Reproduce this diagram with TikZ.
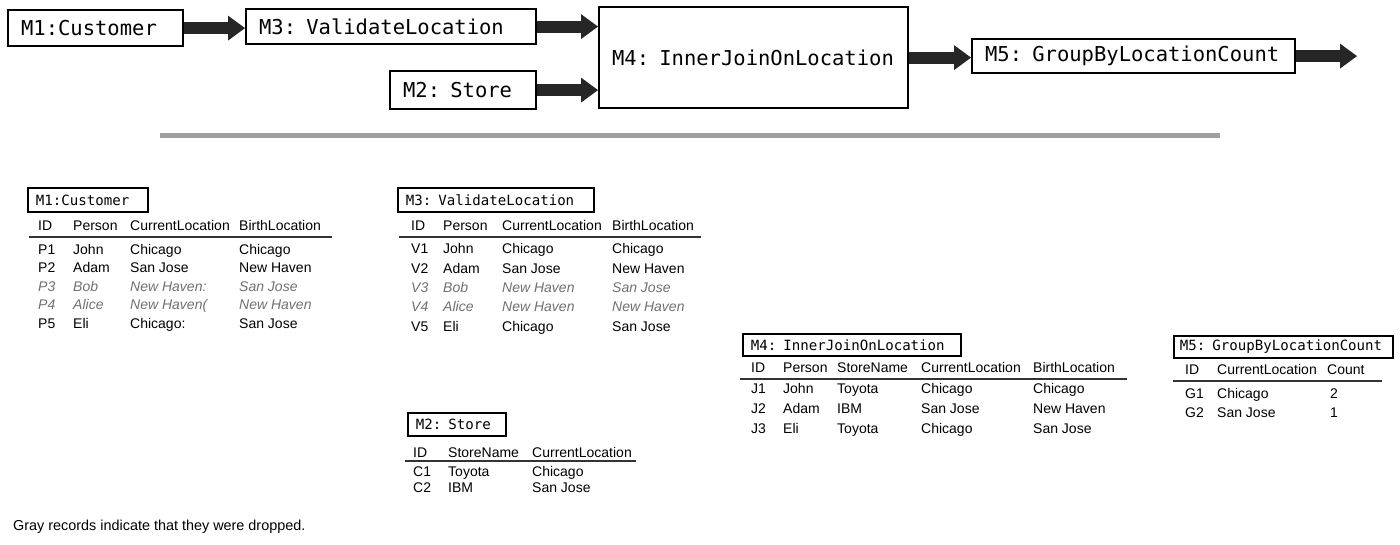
\documentclass[tikz,border=0pt]{standalone}
\usepackage{fontspec}
\setmainfont{Liberation Sans}
\newfontfamily\modfont{DejaVu Sans Mono}
\usetikzlibrary{arrows.meta}
\definecolor{bargray}{RGB}{160,160,160}
\definecolor{dropgray}{RGB}{112,112,112}
\begin{document}
\begin{tikzpicture}[x=1pt, y=-1pt,
  modbox/.style={draw, line width=2.2pt, anchor=north west, align=left, inner xsep=13pt, inner ysep=0pt, font=\modfont\fontsize{20.5}{24}\selectfont},
  tblbox/.style={draw, line width=1.8pt, anchor=north west, align=left, inner xsep=8pt, inner ysep=0pt, font=\modfont\fontsize{14.1}{17}\selectfont},
  flow/.style={line width=12pt, draw=black!85, -{Triangle[length=17pt,width=25pt,line width=0pt]}},
  cell/.style={anchor=base west, inner sep=0pt, font=\fontsize{14}{17}\selectfont},
  drop/.style={cell, text=dropgray, font=\fontsize{14}{17}\selectfont\itshape},
  rule/.style={line width=1.4pt, black!80}]
\useasboundingbox (0,0) rectangle (1400,544);
\node[modbox, text width=149pt, minimum height=36pt] (m1) at (7,9) {M1:Customer};
\node[modbox, text width=264pt, minimum height=35pt] (m3) at (245,8) {M3: ValidateLocation};
\node[modbox, text width=120pt, minimum height=38pt] (m2) at (389,70) {M2: Store};
\node[modbox, text width=283pt, minimum height=101pt] (m4) at (598,6) {M4: InnerJoinOnLocation};
\node[modbox, text width=297pt, minimum height=34pt] (m5) at (971,38) {M5: GroupByLocationCount};
\coordinate (out) at (1357,56);
\draw[flow] (m1.east) -- (m1.east -| m3.west);
\draw[flow] (m3.east) -- (m3.east -| m4.west);
\draw[flow] (m2.east) -- (m2.east -| m4.west);
\draw[flow] (m4.east) -- (m4.east -| m5.west);
\draw[flow] (m5.east) -- (m5.east -| out);
\draw[line width=5pt, bargray] (160,135.5) -- (1220,135.5);

\node[tblbox, text width=104pt, minimum height=24pt] (t1) at (27,187) {M1:Customer};
\foreach \k/\x/\h in {a/38/ID,b/73/Person,c/130/CurrentLocation,d/239/BirthLocation}
  \node[cell] (t1\k) at (\x,230) {\h};
\draw[rule] (29,237) -- (332,237);
\foreach \y/\s/\va/\vb/\vc/\vd [count=\n] in {254/cell/P1/John/Chicago/Chicago,272/cell/P2/Adam/San Jose/New Haven,291/drop/P3/Bob/New Haven:/San Jose,309/drop/P4/Alice/New Haven(/New Haven,328/cell/P5/Eli/Chicago:/San Jose}{
  \node[\s] (t1a\n) at (38,\y) {\va};
  \node[\s] (t1b\n) at (73,\y) {\vb};
  \node[\s] (t1c\n) at (130,\y) {\vc};
  \node[\s] (t1d\n) at (239,\y) {\vd};
}

\node[tblbox, text width=180pt, minimum height=24pt] (t3) at (397,187) {M3: ValidateLocation};
\foreach \k/\x/\h in {a/411/ID,b/443/Person,c/502/CurrentLocation,d/612/BirthLocation}
  \node[cell] (t3\k) at (\x,230) {\h};
\draw[rule] (399,237) -- (701,237);
\foreach \y/\s/\va/\vb/\vc/\vd [count=\n] in {253/cell/V1/John/Chicago/Chicago,273/cell/V2/Adam/San Jose/New Haven,292/drop/V3/Bob/New Haven/San Jose,311/drop/V4/Alice/New Haven/New Haven,331/cell/V5/Eli/Chicago/San Jose}{
  \node[\s] (t3a\n) at (411,\y) {\va};
  \node[\s] (t3b\n) at (443,\y) {\vb};
  \node[\s] (t3c\n) at (502,\y) {\vc};
  \node[\s] (t3d\n) at (612,\y) {\vd};
}

\node[tblbox, text width=82pt, minimum height=23pt] (t2) at (407,412) {M2: Store};
\foreach \k/\x/\h in {a/413/ID,b/448/StoreName,c/532/CurrentLocation}
  \node[cell] (t2\k) at (\x,457) {\h};
\draw[rule] (405,461) -- (636,461);
\foreach \y/\va/\vb/\vc [count=\n] in {476/C1/Toyota/Chicago,492/C2/IBM/San Jose}{
  \node[cell] (t2a\n) at (413,\y) {\va};
  \node[cell] (t2b\n) at (448,\y) {\vb};
  \node[cell] (t2c\n) at (532,\y) {\vc};
}

\node[tblbox, text width=202pt, minimum height=22pt] (t4) at (742,333) {M4: InnerJoinOnLocation};
\foreach \k/\x/\h in {a/751/ID,b/783/Person,c/837/StoreName,d/921/CurrentLocation,e/1033/BirthLocation}
  \node[cell] (t4\k) at (\x,372) {\h};
\draw[rule] (740,379) -- (1127,379);
\foreach \y/\va/\vb/\vc/\vd/\ve [count=\n] in {393/J1/John/Toyota/Chicago/Chicago,413/J2/Adam/IBM/San Jose/New Haven,433/J3/Eli/Toyota/Chicago/San Jose}{
  \node[cell] (t4a\n) at (751,\y) {\va};
  \node[cell] (t4b\n) at (783,\y) {\vb};
  \node[cell] (t4c\n) at (837,\y) {\vc};
  \node[cell] (t4d\n) at (921,\y) {\vd};
  \node[cell] (t4e\n) at (1033,\y) {\ve};
}

\node[tblbox, inner xsep=6pt, text width=207pt, minimum height=22pt] (t5) at (1173,335) {M5: GroupByLocationCount};
\foreach \k/\x/\h in {a/1185/ID,b/1217/CurrentLocation,c/1327/Count}
  \node[cell] (t5\k) at (\x,374) {\h};
\draw[rule] (1173,381) -- (1382,381);
\foreach \y/\va/\vb/\vc [count=\n] in {398/G1/Chicago/2,417/G2/San Jose/1}{
  \node[cell] (t5a\n) at (1185,\y) {\va};
  \node[cell] (t5b\n) at (1217,\y) {\vb};
  \node[cell] (t5c\n) at (1330,\y) {\vc};
}

\node[cell, font=\fontsize{14.4}{17}\selectfont] (note) at (13,530) {Gray records indicate that they were dropped.};
\end{tikzpicture}
\end{document}
